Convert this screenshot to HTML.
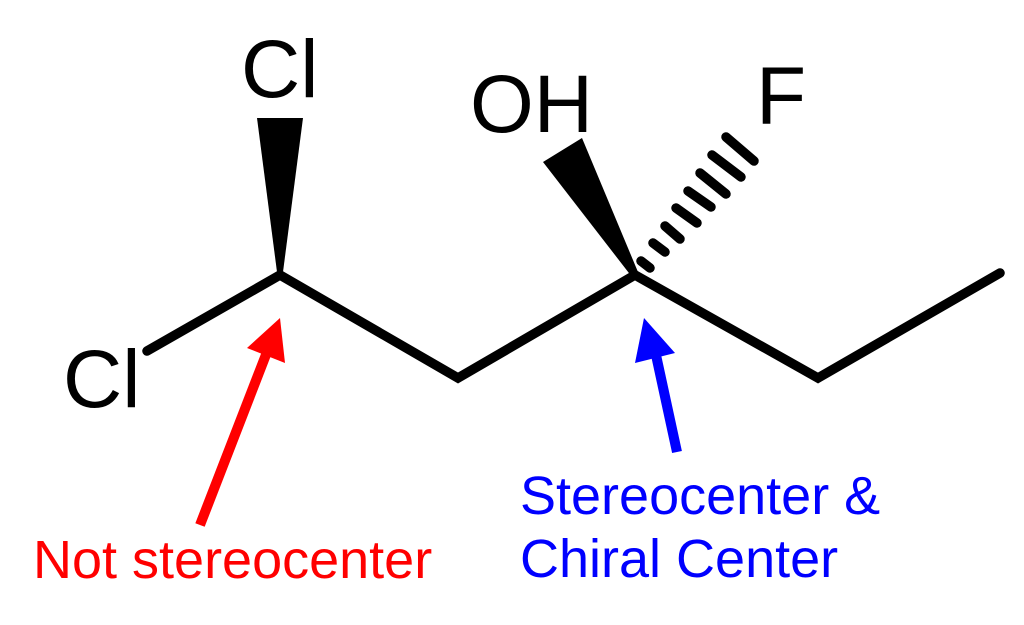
<!DOCTYPE html>
<html>
<head>
<meta charset="utf-8">
<style>
  html, body { margin:0; padding:0; background:#fff; }
  body { width:1024px; height:625px; overflow:hidden; }
  svg { display:block; }
  text { font-family: "Liberation Sans", Arial, sans-serif; }
</style>
</head>
<body>
<svg width="1024" height="625" viewBox="0 0 1024 625" xmlns="http://www.w3.org/2000/svg">
  <rect width="1024" height="625" fill="#fff"/>

  <!-- skeleton bonds -->
  <polyline points="147,351 280,275 458,378 635,275 818,378 1000,273"
            fill="none" stroke="#000" stroke-width="9.5" stroke-linecap="round" stroke-linejoin="miter"/>

  <!-- wedge to top Cl -->
  <polygon points="257,118 303,118 283,272 277,272" fill="#000"/>

  <!-- wedge to OH -->
  <polygon points="543,162 582,138 638,272 632,277" fill="#000"/>

  <!-- hashed wedge to F -->
  <g stroke="#000" stroke-width="9.5" stroke-linecap="round">
    <line x1="726" y1="137" x2="754" y2="161"/>
    <line x1="712" y1="155" x2="741" y2="177"/>
    <line x1="700" y1="173" x2="726" y2="194"/>
    <line x1="688" y1="191" x2="711" y2="207"/>
    <line x1="676" y1="208" x2="697" y2="223"/>
    <line x1="665" y1="226" x2="680" y2="239"/>
    <line x1="653" y1="243" x2="665" y2="252"/>
    <line x1="641" y1="261" x2="650" y2="268"/>
  </g>

  <!-- atom labels -->
  <text x="241" y="97" font-size="82" fill="#000">Cl</text>
  <text x="63" y="407" font-size="82" fill="#000">Cl</text>
  <text x="470" y="132" font-size="82" fill="#000">OH</text>
  <text x="756" y="124" font-size="82" fill="#000">F</text>

  <!-- red arrow -->
  <line x1="200" y1="525" x2="267" y2="352" stroke="#f00" stroke-width="10"/>
  <polygon points="280,318 247,348 285,363" fill="#f00"/>

  <!-- blue arrow -->
  <line x1="677" y1="452" x2="656" y2="355" stroke="#00f" stroke-width="10"/>
  <polygon points="644,318 635,363 675,353" fill="#00f"/>

  <!-- captions -->
  <text x="33" y="578" font-size="54" fill="#f00">Not stereocenter</text>
  <text x="520" y="514" font-size="54" fill="#00f">Stereocenter &amp;</text>
  <text x="520" y="577" font-size="54" fill="#00f">Chiral Center</text>
</svg>
</body>
</html>
